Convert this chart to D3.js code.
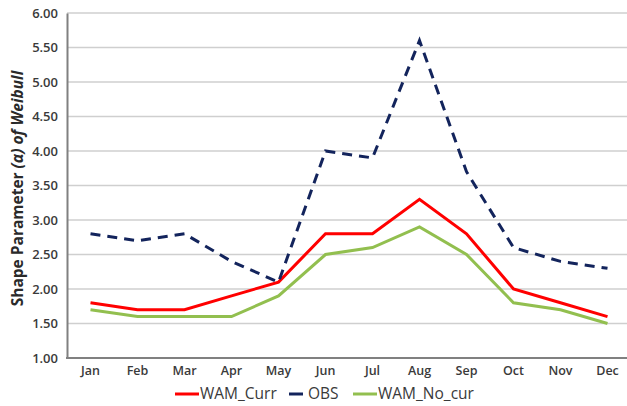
<!DOCTYPE html>
<html>
<head>
<meta charset="utf-8">
<script src="https://cdn.jsdelivr.net/npm/d3@7"></script>
<style>
  body { margin: 0; background: #fff; }
  svg { display: block; }
  text { font-family: "Open Sans", "Liberation Sans", sans-serif; }
</style>
</head>
<body>
<div id="chart"></div>
<script>
const months = ["Jan", "Feb", "Mar", "Apr", "May", "Jun", "Jul", "Aug", "Sep", "Oct", "Nov", "Dec"];
const wamCurr = [1.8, 1.7, 1.7, 1.9, 2.1, 2.8, 2.8, 3.3, 2.8, 2.0, 1.8, 1.6];
const obs = [2.8, 2.7, 2.8, 2.4, 2.1, 4.0, 3.9, 5.6, 3.7, 2.6, 2.4, 2.3];
const wamNoCur = [1.7, 1.6, 1.6, 1.6, 1.9, 2.5, 2.6, 2.9, 2.5, 1.8, 1.7, 1.5];
const yTicks = [1.0, 1.5, 2.0, 2.5, 3.0, 3.5, 4.0, 4.5, 5.0, 5.5, 6.0];

const seriesList = [
  { name: "WAM_Curr", values: wamCurr, color: "#ff0000", dash: null },
  { name: "OBS", values: obs, color: "#13245c", dash: "10,7" },
  { name: "WAM_No_cur", values: wamNoCur, color: "#92bf4f", dash: null },
];

const width = 627, height = 406;
const margin = { top: 13, right: -4, bottom: 48, left: 67 };

const svg = d3.select("#chart").append("svg")
  .attr("width", width)
  .attr("height", height);

const x = d3.scaleBand()
  .domain(months)
  .range([margin.left, width - margin.right]);

const y = d3.scaleLinear()
  .domain([1, 6])
  .range([height - margin.bottom, margin.top]);

// gridlines
svg.append("g")
  .selectAll("line")
  .data(yTicks.slice(1))
  .enter()
  .append("line")
  .attr("x1", margin.left)
  .attr("x2", width)
  .attr("y1", d => y(d))
  .attr("y2", d => y(d))
  .attr("stroke", "#cfcfcf")
  .attr("stroke-width", 1.5);

// y axis
const yAxis = svg.append("g")
  .attr("transform", `translate(${margin.left},0)`)
  .call(d3.axisLeft(y).tickValues(yTicks).tickFormat(d3.format(".2f")).tickSize(0).tickPadding(9));
yAxis.select(".domain").attr("stroke", "#808080").attr("stroke-width", 2);
yAxis.selectAll("text")
  .attr("fill", "#3a3a3a")
  .style("font-size", "13px")
  .style("font-weight", "600");

// x axis
const xAxis = svg.append("g")
  .attr("transform", `translate(0,${height - margin.bottom})`)
  .call(d3.axisBottom(x).tickSize(0).tickPadding(8));
xAxis.select(".domain").remove();
svg.append("line")
  .attr("x1", margin.left - 1)
  .attr("x2", width)
  .attr("y1", y(1))
  .attr("y2", y(1))
  .attr("stroke", "#808080")
  .attr("stroke-width", 2);
xAxis.selectAll("text")
  .attr("fill", "#3a3a3a")
  .style("font-size", "12.5px")
  .style("font-weight", "600");

// y title
const title = svg.append("text")
  .attr("transform", `translate(23,${(y(1) + y(6)) / 2 + 3}) rotate(-90)`)
  .attr("text-anchor", "middle")
  .attr("fill", "#2a2a2a")
  .style("font-size", "15.5px")
  .style("font-weight", "700");
title.append("tspan").text("Shape Parameter ");
title.append("tspan").attr("font-style", "italic").text("(α) of Weibull");

// lines
const line = d3.line()
  .x((d, i) => x(months[i]) + x.bandwidth() / 2)
  .y(d => y(d));

svg.append("g")
  .selectAll("path")
  .data(seriesList)
  .enter()
  .append("path")
  .attr("d", d => line(d.values))
  .attr("fill", "none")
  .attr("stroke", d => d.color)
  .attr("stroke-width", 3)
  .attr("stroke-dasharray", d => d.dash)
  .attr("stroke-linejoin", "miter");

// legend
const legendItems = [
  { s: seriesList[0], x: 175, len: 24 },
  { s: seriesList[1], x: 289, len: 14 },
  { s: seriesList[2], x: 353, len: 24 },
];
const legend = svg.append("g");
legendItems.forEach(item => {
  legend.append("line")
    .attr("x1", item.x)
    .attr("x2", item.x + item.len)
    .attr("y1", 394)
    .attr("y2", 394)
    .attr("stroke", item.s.color)
    .attr("stroke-width", 3);
  legend.append("text")
    .attr("x", item.x + item.len + (item.s.dash ? 5 : 1))
    .attr("y", 394)
    .attr("dy", "0.35em")
    .attr("fill", "#3a3a3a")
    .style("font-size", "15.5px")
    .text(item.s.name);
});
</script>
</body>
</html>
